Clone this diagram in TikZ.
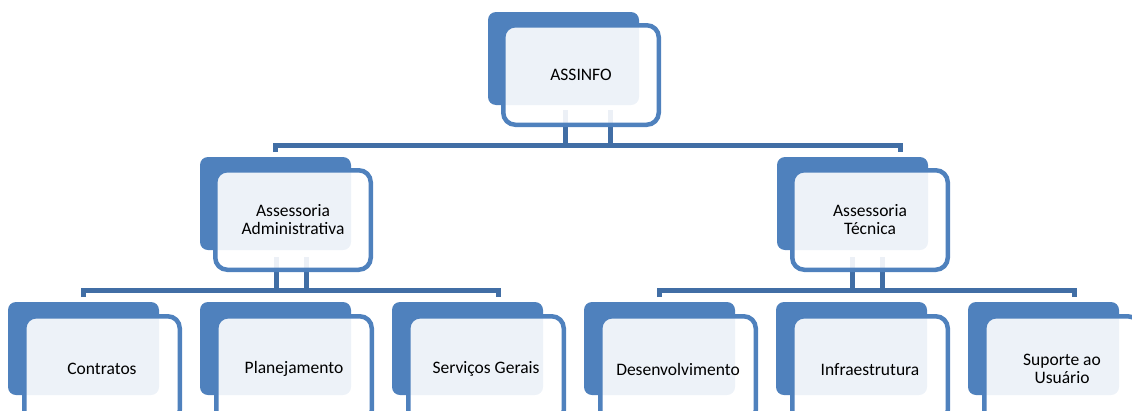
\documentclass[tikz,border=0pt]{standalone}
\usepackage{fontspec}
\setmainfont{Carlito}
\definecolor{boxblue}{HTML}{4F81BD}
\definecolor{linkblue}{HTML}{416EA5}

\tikzset{
  backbox/.style={fill=boxblue, rounded corners=8pt, minimum width=151pt, minimum height=93pt,
    anchor=north west, inner sep=0pt, outer sep=0pt},
  frontbox/.style={draw=boxblue, line width=4.5pt, fill=white, fill opacity=0.9, text opacity=1,
    rounded corners=12pt, minimum width=155.5pt, minimum height=99.5pt, anchor=north west,
    align=center, font=\fontsize{17.5}{18}\selectfont},
  link/.style={draw=linkblue, line width=5pt},
}

\begin{document}
\begin{tikzpicture}[x=1pt,y=-1pt]
        \useasboundingbox (0,0) rectangle (1132,410);
        \clip (0,0) rectangle (1132,410);

        \node[backbox] (assinfo-b) at (488,12) {};
        \node[backbox] (admin-b) at (200,157) {};
        \node[backbox] (tecnica-b) at (777,157) {};
        \foreach \name [count=\k from 0] in {contratos,planej,servicos,desenv,infra,suporte}
            \node[backbox] (\name-b) at (8+192*\k,302) {};

        \coordinate (top-l) at (275,145);
        \coordinate (top-r) at (900,145);
        \draw[link] ([yshift=-7pt]top-l) -- (top-l) -- (top-r) -- ([yshift=-7pt]top-r);
        \draw[link] ([xshift=1.5pt,yshift=-5pt]assinfo-b.south) -- ([xshift=1.5pt]assinfo-b.south |- top-l);
        \draw[link] ([xshift=46.5pt,yshift=-5pt]assinfo-b.south) -- ([xshift=46.5pt]assinfo-b.south |- top-l);

        \coordinate (adm-l) at (83,290);
        \coordinate (adm-r) at (498,290);
        \draw[link] ([yshift=-7pt]adm-l) -- (adm-l) -- (adm-r) -- ([yshift=-7pt]adm-r);
        \draw[link] ([xshift=0.5pt,yshift=-7pt]admin-b.south) -- ([xshift=0.5pt]admin-b.south |- adm-l);
        \draw[link] ([xshift=30.5pt,yshift=-7pt]admin-b.south) -- ([xshift=30.5pt]admin-b.south |- adm-l);

        \coordinate (tec-l) at (659,290);
        \coordinate (tec-r) at (1074,290);
        \draw[link] ([yshift=-7pt]tec-l) -- (tec-l) -- (tec-r) -- ([yshift=-7pt]tec-r);
        \draw[link] ([yshift=-7pt]tecnica-b.south) -- (tecnica-b.south |- tec-l);
        \draw[link] ([xshift=30pt,yshift=-7pt]tecnica-b.south) -- ([xshift=30pt]tecnica-b.south |- tec-l);

        \node[frontbox] (assinfo) at (501,23) {ASSINFO};
        \node[frontbox] (admin) at (213,168) {Assessoria\\Administrativa};
        \node[frontbox] (tecnica) at (790,168) {Assessoria\\Técnica};
        \foreach \name/\txt [count=\k from 0] in {contratos/Contratos,planej/Planejamento,
            servicos/Serviços Gerais,desenv/Desenvolvimento,infra/Infraestrutura,suporte/{Suporte ao\\Usuário}}
            \node[frontbox, minimum height=106pt] (\name) at (22+192*\k,314) {\txt};
\end{tikzpicture}
\end{document}
